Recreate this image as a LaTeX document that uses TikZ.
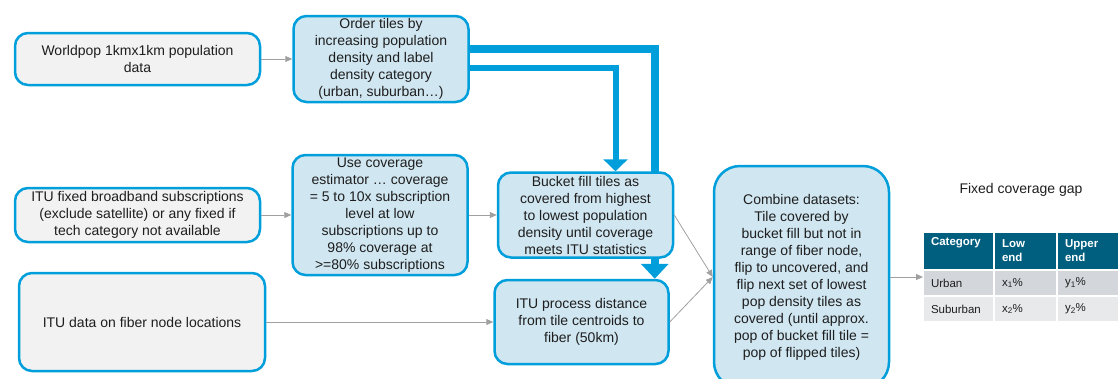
\documentclass[tikz,border=0pt]{standalone}
\usepackage{fontspec}
\setmainfont{Liberation Sans}
\usepackage{xcolor}
\usetikzlibrary{arrows.meta,positioning,backgrounds,calc}
\definecolor{flowblue}{RGB}{0,158,219}
\definecolor{boxblue}{RGB}{208,230,241}
\definecolor{boxgray}{RGB}{242,242,242}
\definecolor{headteal}{RGB}{0,94,126}
\definecolor{rowone}{RGB}{211,214,218}
\definecolor{rowtwo}{RGB}{231,233,235}
\definecolor{linkgray}{RGB}{160,160,160}
\definecolor{inktext}{RGB}{30,30,30}
\tikzset{
   flow/.style={
      x=1pt, y=-1pt,
      every node/.style={font=\fontsize{14}{17}\selectfont, text=inktext},
      proc/.style={draw=flowblue, line width=2.5pt, rounded corners=13pt, align=center, inner sep=0pt},
      data/.style={proc, fill=boxgray},
      task/.style={proc, fill=boxblue},
      link/.style={draw=linkgray, line width=.8pt, -{Triangle[length=7pt,width=6pt]}}
      },
   feed/.style={draw=flowblue, line width=#1},
   tab/.style={anchor=north west, draw=white, line width=1.5pt, outer sep=0pt,
      inner xsep=8pt, inner ysep=3pt, align=left, text width=#1,
      font=\fontsize{11.5}{14}\selectfont},
   head/.style={tab=#1, fill=headteal, text=white, minimum height=38pt,
      font=\fontsize{11.5}{14}\selectfont\bfseries},
   row/.style={tab=#1, minimum height=26pt}
}

\begin{document}
\begin{tikzpicture}[flow]
  \useasboundingbox (0,0) rectangle (1118,378);
  % inputs and steps
  \node[data, minimum width=245pt, minimum height=52pt] (Pop) at (137.5,59) {Worldpop 1kmx1km population\\data};
  \node[task, minimum width=175pt, minimum height=86pt, right=31pt of Pop] (Order) {Order tiles by\\increasing population\\density and label\\density category\\(urban, suburban…)};
  \node[data, minimum width=245pt, minimum height=54pt] (Subs) at (137.5,215) {ITU fixed broadband subscriptions\\(exclude satellite) or any fixed if\\tech category not available};
  \node[task, minimum width=175pt, minimum height=120pt, right=30pt of Subs] (Est) {Use coverage\\estimator … coverage\\= 5 to 10x subscription\\level at low\\subscriptions up to\\98\% coverage at\\>=80\% subscriptions};
  \node[task, minimum width=175pt, minimum height=85pt, right=28pt of Est] (Fill) {Bucket fill tiles as\\covered from highest\\to lowest population\\density until coverage\\meets ITU statistics};
  \node[data, minimum width=246pt, minimum height=98pt] (Fib) at (142,322) {ITU data on fiber node locations};
  \node[task, minimum width=174pt, minimum height=84pt, right=227pt of Fib] (Dist) {ITU process distance\\from tile centroids to\\fiber (50km)};
  \node[task, rounded corners=26pt, minimum width=175pt, minimum height=222pt] (Comb) at (801.5,277) {Combine datasets:\\Tile covered by\\bucket fill but not in\\range of fiber node,\\flip to uncovered, and\\flip next set of lowest\\pop density tiles as\\covered (until approx.\\pop of bucket fill tile =\\pop of flipped tiles)};
  % result table
  \node (Gap) at (1021,190) {Fixed coverage gap};
  \node[head=55pt] (Cat) at (923,232) {Category\\\strut};
  \node[head=47pt] (Low) at (Cat.north east) {Low\\end};
  \node[head=47pt] (Up) at (Low.north east) {Upper\\end};
  \node[row=55pt, fill=rowone] (Urb) at (Cat.south west) {Urban};
  \node[row=47pt, fill=rowone] (UrbLow) at (Urb.north east) {x\textsubscript{1}\%};
  \node[row=47pt, fill=rowone] (UrbUp) at (UrbLow.north east) {y\textsubscript{1}\%};
  \node[row=55pt, fill=rowtwo] (Sub) at (Urb.south west) {Suburban};
  \node[row=47pt, fill=rowtwo] (SubLow) at (Sub.north east) {x\textsubscript{2}\%};
  \node[row=47pt, fill=rowtwo] (SubUp) at (SubLow.north east) {y\textsubscript{2}\%};
  \begin{scope}[on background layer]
  \draw[feed=8pt, -{Triangle[length=15pt,width=27pt]}] ([yshift=10pt]Order.east) -| ([xshift=-15pt]Dist.north east);
  \draw[feed=6pt, -{Triangle[length=12pt,width=24pt]}] ([yshift=-9pt]Order.east) -| ([xshift=30pt]Fill.north);
  \end{scope}
  \draw[link] (Pop) -- (Order);
  \draw[link] (Subs) -- (Est);
  \draw[link] (Est) -- (Fill);
  \draw[link] (Fib) -- (Dist);
  \draw[link] (Fill.east) -- (Comb.west);
  \draw[link] (Dist.east) -- (Comb.west);
  \draw[link] (Comb.east) -- (Comb.east -| Urb.west);
\end{tikzpicture}
\end{document}
